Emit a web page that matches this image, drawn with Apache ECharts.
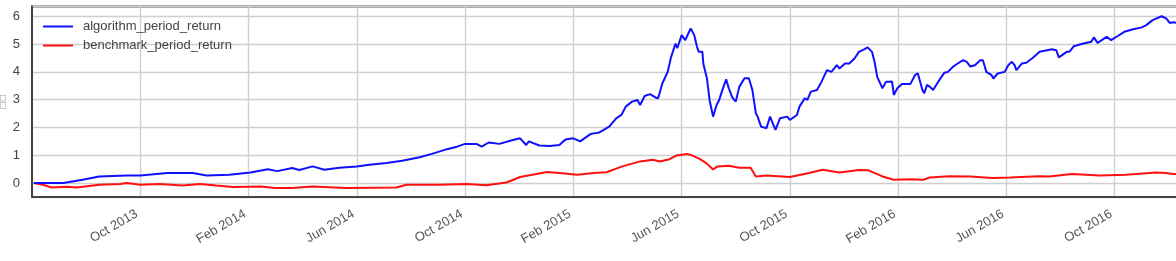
<!DOCTYPE html>
<html>
<head>
<meta charset="utf-8">
<script src="https://cdn.jsdelivr.net/npm/echarts@6/dist/echarts.min.js"></script>
<style>
html,body{margin:0;padding:0;background:#fff;}
#chart{width:1176px;height:261px;}
</style>
</head>
<body>
<div id="chart"></div>
<script>
var seriesNames = ['algorithm_period_return', 'benchmark_period_return'];
var yAxisName = '□□';
var monthNames = ['Jan','Feb','Mar','Apr','May','Jun','Jul','Aug','Sep','Oct','Nov','Dec'];

var algoDates = [
'2013-06-03','2013-07-06','2013-07-28','2013-08-16','2013-09-16','2013-10-01','2013-11-01','2013-11-29','2013-12-15',
'2014-01-10','2014-02-03','2014-02-21','2014-03-03','2014-03-20','2014-03-28','2014-04-12','2014-04-25','2014-05-12',
'2014-06-01','2014-06-15','2014-07-04','2014-07-22','2014-08-11','2014-08-25','2014-09-11','2014-09-22','2014-10-01',
'2014-10-14','2014-10-20','2014-10-28','2014-11-09','2014-11-24','2014-12-02','2014-12-09','2014-12-12','2014-12-24',
'2015-01-05','2015-01-16','2015-01-20','2015-01-24','2015-02-01','2015-02-08','2015-02-19','2015-02-28','2015-03-11',
'2015-03-19','2015-03-25','2015-03-30','2015-04-06','2015-04-12','2015-04-15','2015-04-20','2015-04-26','2015-05-02',
'2015-05-05','2015-05-10','2015-05-16','2015-05-20','2015-05-25','2015-05-27','2015-06-01','2015-06-05','2015-06-07',
'2015-06-11','2015-06-15','2015-06-18','2015-06-20','2015-06-24','2015-06-25','2015-06-29','2015-07-02','2015-07-06',
'2015-07-10','2015-07-13','2015-07-16','2015-07-21','2015-07-24','2015-07-28','2015-08-01','2015-08-05','2015-08-11',
'2015-08-16','2015-08-20','2015-08-24','2015-08-26','2015-08-30','2015-09-05','2015-09-09','2015-09-12','2015-09-15',
'2015-09-20','2015-09-28','2015-10-01','2015-10-09','2015-10-12','2015-10-18','2015-10-21','2015-10-25','2015-11-01',
'2015-11-06','2015-11-12','2015-11-17','2015-11-23','2015-11-26','2015-12-02','2015-12-07','2015-12-13','2015-12-18',
'2015-12-24','2015-12-28','2016-01-02','2016-01-05','2016-01-08','2016-01-14','2016-01-18','2016-01-21','2016-01-25',
'2016-01-27','2016-01-31','2016-02-05','2016-02-14','2016-02-19','2016-02-22','2016-02-27','2016-02-29','2016-03-03',
'2016-03-06','2016-03-10','2016-03-17','2016-03-23','2016-03-27','2016-04-02','2016-04-07','2016-04-13','2016-04-17',
'2016-04-21','2016-04-26','2016-05-02','2016-05-05','2016-05-09','2016-05-15','2016-05-17','2016-05-22','2016-05-30',
'2016-06-03','2016-06-07','2016-06-10','2016-06-12','2016-06-18','2016-06-23','2016-06-30','2016-07-08','2016-07-22',
'2016-07-27','2016-07-30','2016-08-08','2016-08-11','2016-08-16','2016-08-25','2016-09-05','2016-09-08','2016-09-12',
'2016-09-22','2016-09-27','2016-10-04','2016-10-12','2016-10-21','2016-11-01','2016-11-06','2016-11-13','2016-11-23',
'2016-11-28','2016-12-02','2016-12-06','2016-12-13'
];
var algoValues = [
0.00,0.00,0.12,0.24,0.27,0.27,0.36,0.36,0.27,
0.30,0.38,0.50,0.43,0.54,0.47,0.60,0.48,0.55,
0.60,0.66,0.72,0.80,0.93,1.05,1.22,1.31,1.41,
1.41,1.31,1.46,1.41,1.55,1.61,1.37,1.50,1.35,
1.33,1.37,1.49,1.58,1.61,1.50,1.77,1.82,2.03,
2.33,2.45,2.75,2.93,2.99,2.81,3.13,3.20,3.08,
3.05,3.59,4.00,4.54,5.02,4.85,5.32,5.14,5.20,
5.56,5.32,4.90,4.72,4.72,4.30,3.77,2.99,2.39,
2.81,2.99,3.29,3.73,3.41,3.08,2.93,3.46,3.77,
3.77,3.35,2.51,2.39,2.03,1.97,2.39,2.15,1.91,
2.33,2.39,2.27,2.45,2.75,3.05,2.99,3.29,3.35,
3.64,4.06,4.00,4.24,4.12,4.30,4.30,4.48,4.72,
4.81,4.88,4.72,4.35,3.82,3.41,3.64,3.64,3.65,
3.17,3.41,3.56,3.56,3.88,3.95,3.35,3.23,3.53,
3.47,3.35,3.70,3.97,4.00,4.19,4.30,4.42,4.36,
4.19,4.24,4.42,4.42,4.00,3.88,3.76,3.94,4.00,
4.24,4.36,4.24,4.06,4.30,4.33,4.50,4.72,4.81,
4.78,4.52,4.72,4.72,4.92,5.00,5.08,5.24,5.04,
5.26,5.14,5.28,5.44,5.52,5.60,5.68,5.86,6.00,
5.92,5.76,5.78,5.75
];

var benchDates = [
'2013-06-03','2013-06-13','2013-06-23','2013-07-10','2013-07-21','2013-08-16','2013-09-09','2013-09-16','2013-10-01',
'2013-10-23','2013-11-18','2013-12-07','2013-12-26','2014-01-14','2014-02-14','2014-02-28','2014-03-20','2014-04-12',
'2014-05-20','2014-07-15','2014-07-27','2014-09-03','2014-10-03','2014-10-25','2014-11-17','2014-12-02','2014-12-16',
'2015-01-02','2015-01-16','2015-02-05','2015-02-22','2015-03-08','2015-03-26','2015-04-15','2015-04-29','2015-05-07',
'2015-05-18','2015-05-26','2015-06-07','2015-06-13','2015-06-21','2015-06-29','2015-07-06','2015-07-11','2015-07-24',
'2015-08-05','2015-08-18','2015-08-24','2015-09-05','2015-10-01','2015-10-23','2015-11-07','2015-11-26','2015-12-18',
'2015-12-29','2016-01-14','2016-01-27','2016-02-14','2016-02-28','2016-03-06','2016-03-29','2016-04-21','2016-05-16',
'2016-06-05','2016-06-23','2016-07-08','2016-07-19','2016-08-14','2016-09-14','2016-10-14','2016-11-17','2016-11-28',
'2016-12-06','2016-12-13'
];
var benchValues = [
0.00,-0.06,-0.16,-0.13,-0.16,-0.06,-0.03,0.00,-0.06,
-0.03,-0.09,-0.03,-0.09,-0.14,-0.12,-0.18,-0.18,-0.12,
-0.18,-0.16,-0.06,-0.06,-0.03,-0.08,0.02,0.22,0.30,
0.40,0.36,0.30,0.36,0.39,0.60,0.78,0.84,0.78,
0.86,0.99,1.05,0.99,0.87,0.70,0.49,0.60,0.62,
0.55,0.55,0.24,0.27,0.22,0.36,0.48,0.38,0.47,
0.46,0.24,0.12,0.14,0.12,0.20,0.25,0.24,0.18,
0.20,0.23,0.25,0.24,0.33,0.27,0.30,0.38,0.36,
0.33,0.33
];

// date string -> months since 2012-10-01 (fractional)
function monthPos(s) {
  var p = s.split('-');
  var y = +p[0], m = +p[1], d = +p[2];
  var dim = new Date(Date.UTC(y, m, 0)).getUTCDate();
  return (y - 2012) * 12 + (m - 1) - 9 + (d - 1) / dim;
}
function pairs(dates, vals) {
  return dates.map(function (d, i) { return [monthPos(d), vals[i]]; });
}
function monthLabel(u) {
  var k = Math.round(u) + 9;
  return monthNames[((k % 12) + 12) % 12] + ' ' + (2012 + Math.floor(k / 12));
}

var chart = echarts.init(document.getElementById('chart'), null, {renderer: 'canvas'});
var fontFam = '"Liberation Sans", Arial, sans-serif';
chart.setOption({
  animation: false,
  backgroundColor: '#ffffff',
  grid: {
    left: 32, right: -47, top: 6.5, bottom: 64,
    outerBoundsMode: 'none', containLabel: false,
    show: true, borderColor: '#444', borderWidth: 2, backgroundColor: 'transparent'
  },
  legend: {
    left: 38, top: 15, orient: 'vertical', itemGap: 6,
    itemWidth: 30, itemHeight: 14,
    icon: 'path://M0,6 L30,6 L30,8 L0,8 Z',
    textStyle: {fontFamily: fontFam, fontSize: 13, color: '#444', padding: [0,0,0,5]},
    data: seriesNames
  },
  xAxis: {
    type: 'value', min: 8, max: 52, interval: 4,
    axisLine: {show: true, onZero: false, lineStyle: {color: '#444', width: 2}},
    axisTick: {show: false},
    splitLine: {show: true, lineStyle: {color: '#cfcfcf', width: 1.4}},
    axisLabel: {
      showMinLabel: false, showMaxLabel: false,
      rotate: 30, margin: 14, padding: [0, 4, 0, 0],
      fontFamily: fontFam, fontSize: 13, color: '#555',
      formatter: function (v) { return monthLabel(v); }
    }
  },
  yAxis: {
    type: 'value', min: -0.5, max: 6.35,
    name: yAxisName, nameLocation: 'middle', nameGap: 25, nameRotate: 90,
    nameMoveOverlap: false,
    nameTextStyle: {fontSize: 8, color: '#999', fontFamily: '"DejaVu Sans", sans-serif'},
    axisLine: {show: true, onZero: false, lineStyle: {color: '#444', width: 2}},
    axisTick: {show: false},
    splitLine: {show: true, lineStyle: {color: '#cfcfcf', width: 1.4}},
    axisLabel: {
      showMinLabel: false, showMaxLabel: false, margin: 12,
      fontFamily: fontFam, fontSize: 13, color: '#444'
    }
  },
  series: [
    {
      name: seriesNames[0], type: 'line', showSymbol: false, symbol: 'none',
      data: pairs(algoDates, algoValues),
      lineStyle: {color: '#1010ff', width: 2}, itemStyle: {color: '#1010ff'}, z: 3
    },
    {
      name: seriesNames[1], type: 'line', showSymbol: false, symbol: 'none',
      data: pairs(benchDates, benchValues),
      lineStyle: {color: '#ff1010', width: 2}, itemStyle: {color: '#ff1010'}, z: 2
    }
  ]
});
</script>
</body>
</html>
